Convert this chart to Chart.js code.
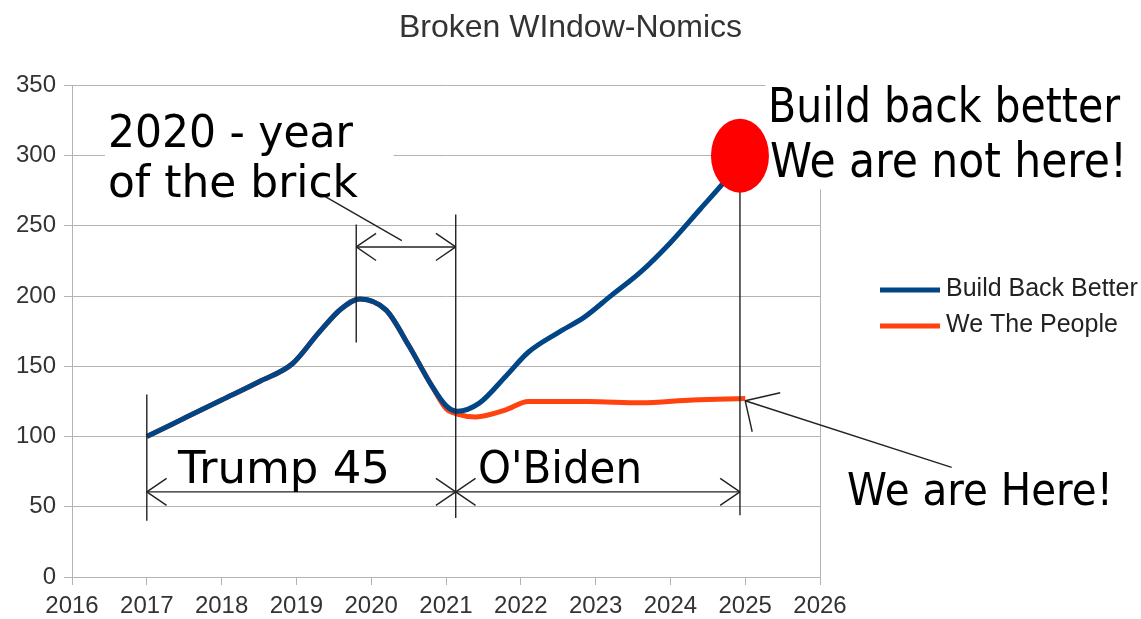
<!DOCTYPE html>
<html>
<head>
<meta charset="utf-8">
<title>Broken WIndow-Nomics</title>
<script src="https://cdn.jsdelivr.net/npm/chart.js@4.4.1/dist/chart.umd.min.js"></script>
<style>
  html, body { margin: 0; padding: 0; background: #fff; }
  #wrap { width: 1141px; height: 619px; position: relative; }
</style>
</head>
<body>
<div id="wrap"><canvas id="chart"></canvas></div>
<script>
// series (x = year, y = value)
const blueYears = [2017, 2017.5, 2018, 2018.5, 2018.95, 2019.3, 2019.6, 2019.85, 2020.2, 2020.5, 2020.8, 2021.0, 2021.15, 2021.45, 2021.8, 2022.1, 2022.5, 2022.85, 2023.2, 2023.6, 2024.0, 2024.4, 2024.7, 2025.0];
const blueValues = [100, 113, 126, 139, 152, 174, 191, 198, 190, 165, 137, 122, 118, 124, 143, 160, 174, 185, 200, 217, 238, 262, 280, 300];
const orangeYears = [2017, 2017.5, 2018, 2018.5, 2018.95, 2019.3, 2019.6, 2019.85, 2020.2, 2020.5, 2020.8, 2021.0, 2021.15, 2021.4, 2021.8, 2022.1, 2022.9, 2023.6, 2024.3, 2025.0];
const orangeValues = [100, 113, 126, 139, 152, 174, 191, 198, 190, 165, 137, 120, 116, 114, 119, 125, 125, 124, 126, 127];
const seriesNames = ["Build Back Better", "We The People"];
const seriesColors = ["#004586", "#ff420e"];

// the hand-drawn notes, in chart units
const markYears = [2017, 2019.8, 2021.13, 2024.93];
const markFrom = [130, 251, 258, 294];
const markTo = [40, 167, 42, 44];
const bubble = { x: 2024.93, y: 300 };

const toPts = (xs, ys) => xs.map((x, i) => ({ x: x, y: ys[i] }));

function stretchText(ctx, text, x, y, width, size) {
  ctx.save();
  ctx.font = size + 'px "DejaVu Sans"';
  const w = ctx.measureText(text).width;
  ctx.translate(x, y);
  ctx.scale(width / w, 1);
  ctx.fillText(text, 0, 0);
  ctx.restore();
}

function line(ctx, x1, y1, x2, y2) {
  ctx.beginPath();
  ctx.moveTo(x1, y1);
  ctx.lineTo(x2, y2);
  ctx.stroke();
}

function arrowHead(ctx, x, y, ang) {
  const len = 24, spread = 0.6;
  line(ctx, x, y, x + len * Math.cos(ang - spread), y + len * Math.sin(ang - spread));
  line(ctx, x, y, x + len * Math.cos(ang + spread), y + len * Math.sin(ang + spread));
}

function doubleArrow(ctx, x1, x2, y) {
  line(ctx, x1, y, x2, y);
  arrowHead(ctx, x1, y, 0);
  arrowHead(ctx, x2, y, Math.PI);
}

const notesPlugin = {
  id: "notes",
  afterDraw(chart) {
    const ctx = chart.ctx;
    const xs = chart.scales.x, ys = chart.scales.y;
    const px = v => xs.getPixelForValue(v);
    const py = v => ys.getPixelForValue(v);

    ctx.save();
    // white boxes behind the big captions
    ctx.fillStyle = "#fff";
    ctx.fillRect(px(2016.44), py(339), px(2020.3) - px(2016.44), py(258) - py(339));
    ctx.fillRect(px(2024.95) + 24, 80, 1141 - px(2024.95) - 24, py(276) - 80);

    // vertical marker lines
    ctx.strokeStyle = "#222";
    ctx.lineWidth = 1.4;
    markYears.forEach((yr, i) => line(ctx, px(yr), py(markFrom[i]), px(yr), py(markTo[i])));

    // arrows
    doubleArrow(ctx, px(2019.8), px(2021.13), py(235));
    doubleArrow(ctx, px(2017), px(2021.13), py(60.6));
    doubleArrow(ctx, px(2021.13), px(2024.93), py(60.6));
    line(ctx, px(2019.38), py(271), px(2020.41), py(239.5));
    const tipX = px(2025), tipY = py(125.5);
    line(ctx, px(2027.76), py(78), tipX, tipY);
    line(ctx, tipX, tipY, tipX + 35, tipY - 8);
    line(ctx, tipX, tipY, tipX + 7, tipY + 31);

    // the red bubble
    ctx.fillStyle = "#ff0000";
    ctx.beginPath();
    ctx.ellipse(px(bubble.x), py(bubble.y), 29, 37, 0, 0, Math.PI * 2);
    ctx.fill();

    // captions
    ctx.fillStyle = "#000";
    ctx.textBaseline = "alphabetic";
    stretchText(ctx, "2020 - year", 108, 147, 245, 44);
    stretchText(ctx, "of the brick", 108, 197, 250, 44);
    stretchText(ctx, "Build back better", 768, 122, 352, 48);
    stretchText(ctx, "We are not here!", 770, 177, 357, 48);
    stretchText(ctx, "Trump 45", 178, 483, 212, 45);
    stretchText(ctx, "O'Biden", 478, 483, 164, 45);
    stretchText(ctx, "We are Here!", 847, 505, 266, 44);

    // legend
    ctx.lineWidth = 5;
    ctx.font = '25px "Liberation Sans"';
    ctx.textBaseline = "middle";
    seriesNames.forEach((name, i) => {
      const y = 290 + i * 36;
      ctx.strokeStyle = seriesColors[i];
      line(ctx, 880, y, 940, y);
      ctx.fillStyle = "#222";
      ctx.fillText(name, 946, y - 1);
    });
    ctx.restore();
  }
};

const gridGrey = "#b3b3b3";
const tickFont = { family: "Liberation Sans", size: 24 };

new Chart(document.getElementById("chart"), {
  type: "line",
  data: {
    datasets: [
      {
        label: seriesNames[0],
        data: toPts(blueYears, blueValues),
        borderColor: seriesColors[0],
        backgroundColor: seriesColors[0],
        borderWidth: 5,
        pointRadius: 0,
        cubicInterpolationMode: "monotone",
      },
      {
        label: seriesNames[1],
        data: toPts(orangeYears, orangeValues),
        borderColor: seriesColors[1],
        backgroundColor: seriesColors[1],
        borderWidth: 5,
        pointRadius: 0,
        cubicInterpolationMode: "monotone",
      },
    ],
  },
  options: {
    responsive: true,
    maintainAspectRatio: false,
    animation: false,
    layout: { padding: 0 },
    plugins: {
      legend: { display: false },
      tooltip: { enabled: false },
      title: {
        display: true,
        text: "Broken WIndow-Nomics",
        color: "#333",
        font: { family: "Liberation Sans", size: 32, weight: "normal" },
        padding: { top: 9, bottom: 38 },
      },
    },
    scales: {
      x: {
        type: "linear",
        min: 2016,
        max: 2026,
        afterFit: s => { s.height = 42; },
        ticks: {
          stepSize: 1,
          padding: 7,
          color: "#333",
          font: tickFont,
          callback: v => String(v),
        },
        grid: {
          color: c => (c.tick && c.tick.value === 2026 ? gridGrey : "rgba(0,0,0,0)"),
          tickColor: gridGrey,
          tickLength: 8,
        },
        border: { color: gridGrey },
      },
      y: {
        min: 0,
        max: 350,
        afterFit: s => { s.width = 72; },
        ticks: {
          stepSize: 50,
          padding: 8,
          color: "#333",
          font: tickFont,
        },
        grid: { color: gridGrey, tickLength: 8 },
        border: { color: gridGrey },
      },
      // empty right-hand space where the legend sits
      side: {
        position: "right",
        min: 0,
        max: 350,
        afterFit: s => { s.width = 321; },
        ticks: { display: false },
        grid: { display: false },
        border: { display: false },
      },
    },
  },
  plugins: [notesPlugin],
});
</script>
</body>
</html>
